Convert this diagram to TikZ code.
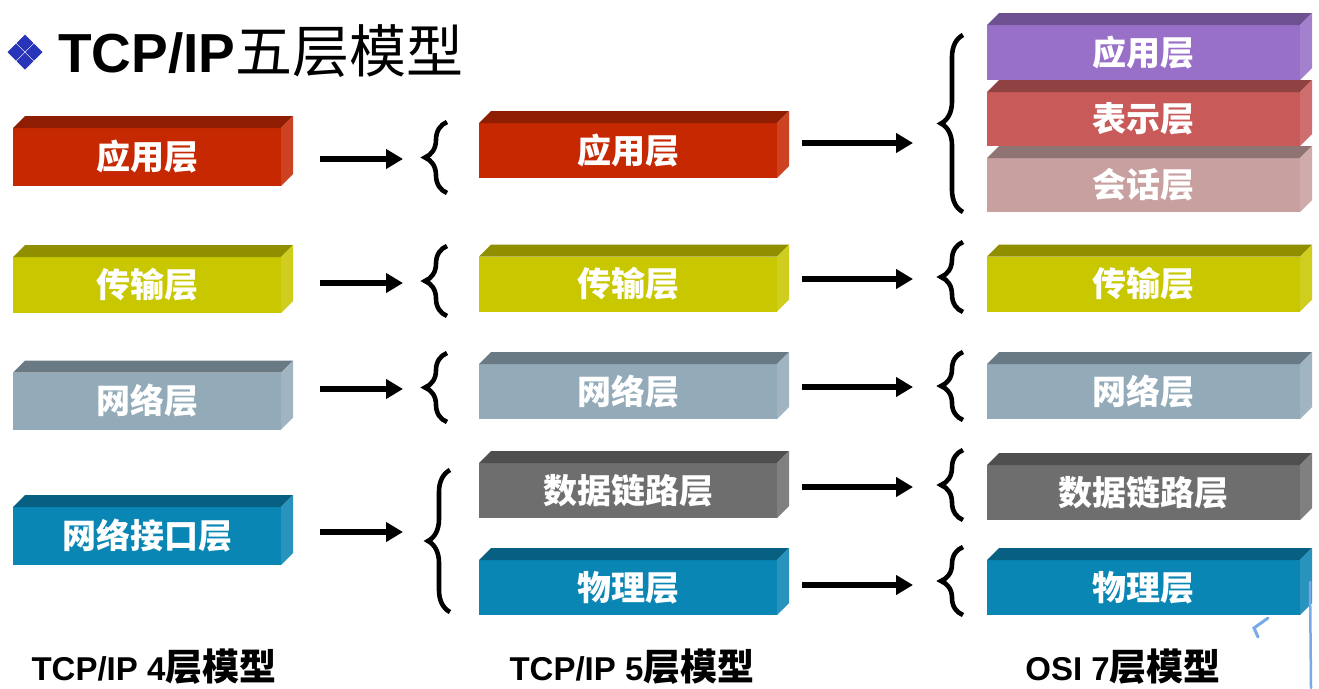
\documentclass[tikz,border=0pt]{standalone}
\usepackage{fontspec}
\setmainfont{Liberation Sans}
\newfontfamily\cjk{Noto Sans CJK SC}
\usetikzlibrary{arrows.meta,decorations.pathreplacing}

\definecolor{appred}{RGB}{198,40,2}
\definecolor{transyel}{RGB}{200,199,0}
\definecolor{netgray}{RGB}{147,170,185}
\definecolor{phyblue}{RGB}{10,134,181}
\definecolor{linkgray}{RGB}{110,110,110}
\definecolor{osiapp}{RGB}{152,112,200}
\definecolor{presred}{RGB}{200,90,90}
\definecolor{sessrose}{RGB}{200,160,160}
\definecolor{bulletblue}{RGB}{40,52,185}
\definecolor{penblue}{RGB}{120,170,232}

% one 3d layer slab: front face is the node, top and side are filled round it
\newcommand{\slab}[7][]{%
  \node[face, minimum width=#5pt, fill=#6, #1] (#2) at (#3,#4) {#7};
  \fill[#6!72!black] (#2.north west) -- ++(12,-12) -- ([shift={(12,-12)}]#2.north east) -- (#2.north east) -- cycle;
  \fill[#6!88!white] (#2.north east) -- ++(12,-12) -- ([shift={(12,-12)}]#2.south east) -- (#2.south east) -- cycle;
}

\begin{document}
\begin{tikzpicture}[x=1pt,y=-1pt,
    face/.style={draw=none,inner sep=0pt,outer sep=0pt,minimum height=55pt,
      text=white,font=\cjk\bfseries\fontsize{34}{34}\selectfont},
    arr/.style={-{Triangle[length=17pt,width=19pt]},line width=6pt},
    curly/.style={decorate,decoration={brace,amplitude=22pt},line width=4.6pt},
    caption/.style={font=\bfseries\fontsize{33}{33}\selectfont,inner sep=0pt}]

  \useasboundingbox[fill=white] (0,0) rectangle (1319,688);

  % title
  \foreach \dx/\dy in {0/-9,0/9,-9/0,9/0}
    \fill[bulletblue] (25+\dx,52+\dy) +(0,-8.5) -- +(8.5,0) -- +(0,8.5) -- +(-8.5,0) -- cycle;
  \node[anchor=base west,inner sep=0pt] (title) at (58,72)
    {\fontsize{55}{55}\selectfont\bfseries TCP/IP{\cjk\mdseries\fontsize{57}{57}\selectfont 五层模型}};

  % TCP/IP 4 layers
  \slab[minimum height=58pt]{t4app}{147}{157}{268}{appred}{应用层}
  \slab[minimum height=56pt]{t4tra}{147}{285}{268}{transyel}{传输层}
  \slab[minimum height=57pt]{t4net}{147}{401}{268}{netgray}{网络层}
  \slab[minimum height=58pt]{t4nif}{147}{536}{268}{phyblue}{网络接口层}

  % TCP/IP 5 layers
  \slab{t5app}{628}{150.5}{298}{appred}{应用层}
  \slab{t5tra}{628}{284}{298}{transyel}{传输层}
  \slab{t5net}{628}{391.5}{298}{netgray}{网络层}
  \slab{t5dl}{628}{490.5}{298}{linkgray}{数据链路层}
  \slab{t5phy}{628}{587.5}{298}{phyblue}{物理层}

  % OSI 7 layers
  \slab{o7app}{1143.5}{52.5}{313}{osiapp}{应用层}
  \slab[minimum height=54pt]{o7pre}{1143.5}{119}{313}{presred}{表示层}
  \slab[minimum height=54pt]{o7ses}{1143.5}{185}{313}{sessrose}{会话层}
  \slab{o7tra}{1143.5}{284}{313}{transyel}{传输层}
  \slab{o7net}{1143.5}{391.5}{313}{netgray}{网络层}
  \slab{o7dl}{1143.5}{492.5}{313}{linkgray}{数据链路层}
  \slab{o7phy}{1143.5}{587.5}{313}{phyblue}{物理层}

  % braces
  \draw[curly] (447,193) -- (447,122);
  \draw[curly] (447,316) -- (447,246);
  \draw[curly] (447,422) -- (447,353);
  \draw[curly] (450,612) -- (450,470);
  \draw[curly] (963,212) -- (963,35);
  \draw[curly] (963,312) -- (963,242);
  \draw[curly] (963,420) -- (963,352);
  \draw[curly] (963,520) -- (963,450);
  \draw[curly] (963,615) -- (963,547);

  % arrow ends in front of the braces
  \coordinate (p1) at (403,159);
  \coordinate (p2) at (403,283);
  \coordinate (p3) at (403,389);
  \coordinate (p4) at (403,532);
  \coordinate (q1) at (913,143);
  \coordinate (q2) at (913,279);
  \coordinate (q3) at (913,387);
  \coordinate (q4) at (913,487);
  \coordinate (q5) at (913,585);

  \foreach \s/\t in {t4app/p1,t4tra/p2,t4net/p3,t4nif/p4}
    \draw[arr,shorten <=39pt] (\s.east |- \t) -- (\t);
  \foreach \s/\t in {t5app/q1,t5tra/q2,t5net/q3,t5dl/q4,t5phy/q5}
    \draw[arr,shorten <=25pt] (\s.east |- \t) -- (\t);

  % captions
  \node[caption] (cap4) at (154,667) {TCP/IP 4{\cjk\fontsize{37}{37}\selectfont 层模型}};
  \node[caption] (cap5) at (632,667) {TCP/IP 5{\cjk\fontsize{37}{37}\selectfont 层模型}};
  \node[caption] (cap7) at (1123,667) {OSI 7{\cjk\fontsize{37}{37}\selectfont 层模型}};

  % pen stroke at the lower right
  \draw[penblue,line width=2.5pt,line cap=round] (1310,582) -- (1311,688);
  \draw[penblue,line width=3pt,line cap=round] (1268,618) -- (1254,628) -- (1258,637);
\end{tikzpicture}
\end{document}
